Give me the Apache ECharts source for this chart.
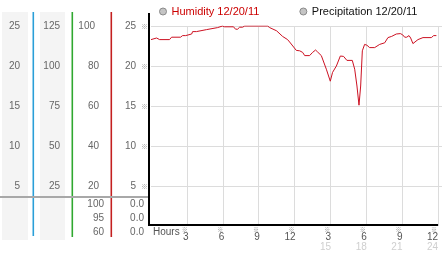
<!DOCTYPE html>
<html>
<head>
<meta charset="utf-8">
<script src="https://cdn.jsdelivr.net/npm/echarts@6/dist/echarts.min.js"></script>
<style>html,body{margin:0;padding:0;background:#fff;}#c{width:442px;height:253px;}</style>
</head>
<body>
<div id="c"></div>
<script>
const hours = [0,0.47,0.72,1.55,1.72,2.47,2.64,2.9,3.06,3.4,3.48,3.8,3.9,4.65,4.8,5.57,5.73,5.98,6.15,6.9,7.07,7.24,7.41,7.66,7.83,9.75,9.92,10.5,11.0,11.42,11.59,12.15,12.43,12.68,12.85,13.26,13.51,13.76,13.93,14.24,14.66,14.99,15.18,15.5,15.83,16.1,16.38,16.83,17.03,17.22,17.39,17.53,17.67,17.86,18.05,18.28,18.7,19.12,19.54,19.81,20.12,20.51,20.85,21.04,21.21,21.38,21.57,21.71,21.9,22.32,22.74,23.44,23.63,23.86];
const humidity = [93.2,94,93.2,93.2,94.4,94.4,95.2,95.2,96,96,97.2,97.2,98.2,98.2,99.2,99.2,100,100,99.6,99.6,98.4,98.4,99.4,99.4,100,100,99.2,97.6,94.8,93.2,92,87.8,87.6,86.8,85.2,85.2,86.8,88,87,85.2,78.4,72.4,76.8,80,85,84.8,82.8,82.8,78.4,70,60.4,70,87.6,90.8,90.4,89.2,89.2,90.8,91.6,94.2,94.8,96,96.2,95.6,94.4,94.4,95.2,94,91.2,93.2,94.2,94.2,95.2,95.2];
const precipitation = [];
const ticksA = ['', '5', '10', '15', '20', '25'];
const ticksB = ['', '25', '50', '75', '100', '125'];
const ticksC = ['', '20', '40', '60', '80', '100'];
const ticksD = ['', '5', '10', '15', '20', '25'];
const tableC = ['100', '95', '60'];
const tableD = ['0.0', '0.0', '0.0'];
const hourTop = ['', '3', '6', '9', '12', '3', '6', '9', '12'];
const hourBottom = ['', '', '', '', '', '15', '18', '21', '24'];
const legendNames = ['Humidity 12/20/11', 'Precipitation 12/20/11'];

const FONT = '"Liberation Sans", Arial, sans-serif';
const MARKFONT = '"Noto Sans CJK JP", "Noto Sans CJK SC", sans-serif';
const LBL = '#666';
const chart = echarts.init(document.getElementById('c'), null, {renderer: 'canvas'});

function leftAxis(ticks, offset, margin) {
  return {
    type: 'value', gridIndex: 0, min: 0, max: 100, interval: 20, position: 'left', offset: offset,
    axisLine: {show: false}, axisTick: {show: false}, splitLine: {show: false},
    axisLabel: {
      show: true, margin: margin, showMinLabel: false, color: LBL, fontFamily: FONT, fontSize: 10,
      formatter: v => ticks[Math.round(v / 20)] || ''
    }
  };
}

const yAxes = [
  {
    type: 'value', gridIndex: 0, min: 0, max: 100, interval: 20, position: 'left',
    axisLine: {show: false}, axisTick: {show: false},
    splitLine: {show: true, showMinLine: false, lineStyle: {color: '#dcdcdc', width: 1}},
    axisLabel: {
      show: true, margin: 3, showMinLabel: false, color: LBL, fontFamily: FONT, fontSize: 10,
      formatter: v => { const t = ticksD[Math.round(v / 20)]; return t ? '{n|' + t + '}{m|※}' : ''; },
      rich: {n: {color: LBL, fontFamily: FONT, fontSize: 10, padding: [0, 5, 0, 0]}, m: {color: '#999', fontSize: 7, fontFamily: MARKFONT}}
    }
  },
  leftAxis(ticksC, 52, 0),
  leftAxis(ticksB, 91, 0),
  leftAxis(ticksA, 131, 0),
  {type: 'value', gridIndex: 1, min: 0, max: 100, show: false}
];
yAxes[1].axisLabel.formatter = v => { const t = ticksC[Math.round(v / 20)] || ''; return t === '100' ? '{w|' + t + '}' : t; };
yAxes[1].axisLabel.rich = {w: {color: LBL, fontFamily: FONT, fontSize: 10, padding: [0, 4, 0, 0]}};

const option = {
  animation: false,
  backgroundColor: '#fff',
  grid: [
    {left: 151, right: 0, top: 26, height: 200, containLabel: false},
    {left: 153, width: 291, top: 26, height: 200, containLabel: false}
  ],
  legend: {
    left: 154, top: 1, itemWidth: 7, itemHeight: 7, itemGap: 40, icon: 'circle', selectedMode: false,
    itemStyle: {color: '#c4c4c4', borderColor: '#8a8a8a', borderWidth: 1},
    textStyle: {fontFamily: FONT, fontSize: 11},
    data: [
      {name: legendNames[0], textStyle: {color: '#cc0000'}},
      {name: legendNames[1], textStyle: {color: '#111'}}
    ]
  },
  xAxis: [
    {
      type: 'value', gridIndex: 0, min: 0, max: 24.33, interval: 3,
      axisLine: {show: false}, axisTick: {show: false}, axisLabel: {show: false},
      splitLine: {show: true, showMinLine: false, showMaxLine: false, lineStyle: {color: '#dcdcdc', width: 1}}
    },
    {
      type: 'value', gridIndex: 1, min: 0, max: 24.33, interval: 3,
      axisLine: {show: false}, axisTick: {show: false}, splitLine: {show: false},
      axisLabel: {
        show: true, margin: 1, align: 'right', showMinLabel: false, showMaxLabel: false,
        formatter: v => {
          const i = Math.round(v / 3);
          if (Math.abs(v - i * 3) > 0.01 || !hourTop[i]) return '';
          let s = '{m|※}\n{d|' + hourTop[i] + '}';
          if (hourBottom[i]) s += '\n{g|' + hourBottom[i] + '}';
          return s;
        },
        rich: {
          m: {color: '#888', fontSize: 6, lineHeight: 6, fontFamily: MARKFONT, align: 'right', padding: [0, 1, 0, 0]},
          d: {color: '#555', fontSize: 10, lineHeight: 9, fontFamily: FONT, align: 'right'},
          g: {color: '#cfcfcf', fontSize: 10, lineHeight: 11, fontFamily: FONT, align: 'right'}
        }
      }
    }
  ],
  yAxis: yAxes,
  series: [
    {name: legendNames[0], type: 'line', xAxisIndex: 0, yAxisIndex: 0, showSymbol: false, symbol: 'none',
     lineStyle: {color: '#cc1122', width: 1}, itemStyle: {color: '#cc1122'},
     data: hours.map((h, i) => [h, humidity[i]])},
    {name: legendNames[1], type: 'line', xAxisIndex: 0, yAxisIndex: 0, showSymbol: false, symbol: 'none',
     lineStyle: {color: '#333', width: 1}, data: precipitation}
  ]
};
chart.setOption(option);

const x0 = chart.convertToPixel({xAxisIndex: 0}, 0);
const x24 = chart.convertToPixel({xAxisIndex: 0}, 24);
const yZero = chart.convertToPixel({yAxisIndex: 0}, 0);

const g = [];
g.push({type: 'rect', z: -10, shape: {x: 2, y: 12, width: 26, height: 228}, style: {fill: '#f4f4f4'}});
g.push({type: 'rect', z: -10, shape: {x: 40, y: 12, width: 25, height: 228}, style: {fill: '#f4f4f4'}});
g.push({type: 'rect', z: 5, shape: {x: 32.5, y: 12, width: 1.6, height: 224}, style: {fill: '#2a9fd8'}});
g.push({type: 'rect', z: 5, shape: {x: 71.5, y: 12, width: 1.6, height: 225}, style: {fill: '#30a830'}});
g.push({type: 'rect', z: 5, shape: {x: 110.5, y: 12, width: 1.6, height: 225}, style: {fill: '#c42020'}});
g.push({type: 'rect', z: 6, shape: {x: 0, y: 196, width: 150, height: 2}, style: {fill: '#a8a8a8'}});
g.push({type: 'rect', z: 10, shape: {x: x0 - 3, y: 13, width: 2, height: yZero - 13}, style: {fill: '#000'}});
g.push({type: 'rect', z: 10, shape: {x: x0 - 3, y: yZero - 2, width: x24 - x0 + 3, height: 2}, style: {fill: '#000'}});
const rowsY = [204, 218, 232];
tableC.forEach((t, i) => g.push({type: 'text', z: 10, style: {text: t, x: 104, y: rowsY[i], textAlign: 'right', textVerticalAlign: 'middle', fill: LBL, font: '10px ' + FONT}}));
tableD.forEach((t, i) => g.push({type: 'text', z: 10, style: {text: t, x: 144, y: rowsY[i], textAlign: 'right', textVerticalAlign: 'middle', fill: LBL, font: '10px ' + FONT}}));
g.push({type: 'text', z: 10, style: {text: 'Hours', x: x0 + 2, y: 232, textAlign: 'left', textVerticalAlign: 'middle', fill: '#555', font: '10px ' + FONT}});
chart.setOption({graphic: g});
</script>
</body>
</html>
